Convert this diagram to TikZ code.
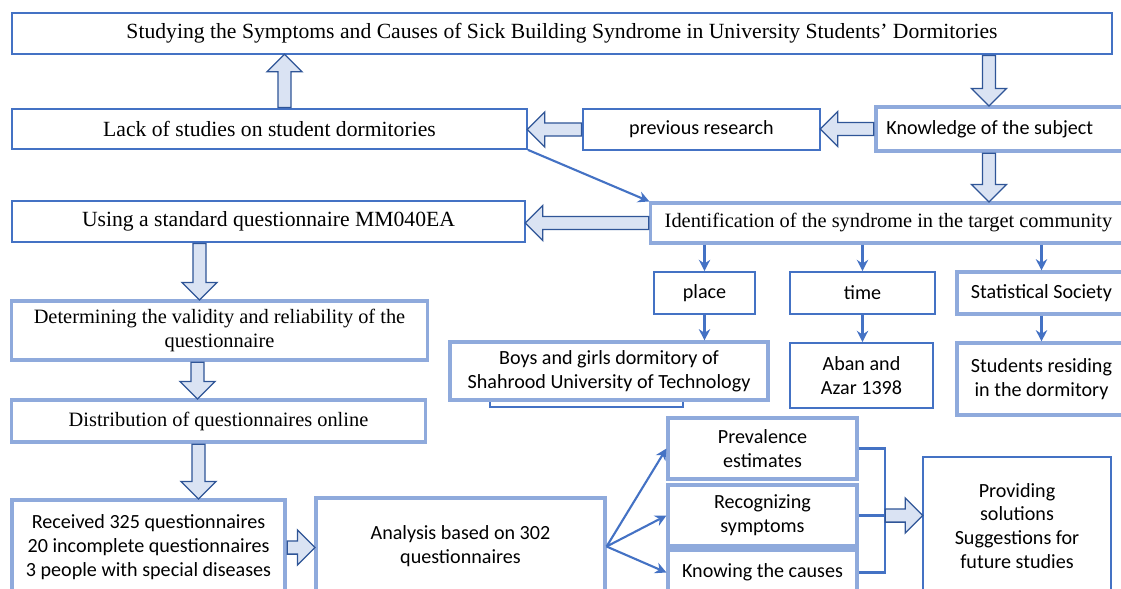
\documentclass[tikz,border=0pt]{standalone}
\usepackage{fontspec}
\setmainfont{Liberation Serif}
\newfontfamily\calibri{Carlito}
\usetikzlibrary{shapes.arrows,arrows.meta,calc}

\definecolor{boxblue}{HTML}{4472C4}
\definecolor{paleblue}{HTML}{8FAADC}
\definecolor{arrowfill}{HTML}{DAE3F3}
\definecolor{arrowline}{HTML}{2F5597}

\newcommand{\fatarrow}[3]{%
  \path let \p1=(#1), \p2=(#2), \n1={veclen(\x2-\x1,\y2-\y1)} in
    node[fat arrow, rotate=#3, anchor=tail, minimum height=\n1] at (\p1) {};}

\begin{document}
\begin{tikzpicture}[x=0.025cm,y=-0.025cm]
\tikzstyle{every node}=[inner sep=2pt, align=center];
\tikzstyle{darkbox}=[draw=boxblue, line width=1.2pt, fill=white];
\tikzstyle{palebox}=[draw=paleblue, line width=2.2pt, fill=white];
\tikzstyle{serif}=[font=\fontsize{15.4}{16.5}\selectfont];
\tikzstyle{small serif}=[font=\fontsize{14.5}{16.5}\selectfont];
\tikzstyle{sans}=[font=\calibri\fontsize{14.3}{17}\selectfont];
\tikzstyle{fat arrow}=[single arrow, draw=arrowline, fill=arrowfill, line width=0.9pt,
  inner sep=4.25pt, single arrow head extend=7.75pt, single arrow tip angle=90];
\tikzstyle{thin arrow}=[draw=boxblue, line width=1.5pt, -{Stealth[length=8pt,width=8pt]}];
\tikzstyle{bracket}=[draw=boxblue, line width=1.5pt];
\useasboundingbox (0,0) rectangle (1121,588);
\clip (0,0) rectangle (1121,588);

\node[darkbox, serif, minimum width=27.5cm, minimum height=1.025cm] (title) at (562,33.5)
  {Studying the Symptoms and Causes of Sick Building Syndrome in University Students' Dormitories};
\node[darkbox, serif, minimum width=12.875cm, minimum height=1cm] (lack) at (269.5,129)
  {Lack of studies on student dormitories};
\node[darkbox, sans, minimum width=5.925cm, minimum height=1.025cm] (prev) at (701.5,129.5)
  {previous research};
\node[palebox, sans, minimum width=6.25cm, minimum height=1.1cm] (know) at (1001,129)
  {Knowledge of the subject\hspace{16pt}};
\node[darkbox, serif, minimum width=12.825cm, minimum height=1.025cm] (using) at (268.5,221.5)
  {Using a standard questionnaire MM040EA};
\node[palebox, small serif, minimum width=11.875cm, minimum height=1cm] (ident) at (888.5,223)
  {Identification of the syndrome in the target community};
\node[darkbox, sans, minimum width=2.525cm, minimum height=1.05cm] (place) at (704.5,293) {place};
\node[darkbox, sans, minimum width=3.625cm, minimum height=1.05cm] (time) at (862.5,293) {time};
\node[palebox, sans, minimum width=4.225cm, minimum height=1.05cm] (stat) at (1041.5,293)
  {Statistical Society};
\draw[darkbox] (490,385) rectangle (683,407);
\node[palebox, sans, minimum width=7.95cm, minimum height=1.45cm] (boys) at (609,371)
  {Boys and girls dormitory of\\Shahrood University of Technology};
\node[darkbox, sans, minimum width=3.575cm, minimum height=1.625cm] (aban) at (861.5,375.5)
  {Aban and\\Azar 1398};
\node[palebox, sans, minimum width=4.225cm, minimum height=1.8cm] (stud) at (1041.5,379)
  {Students residing\\in the dormitory};
\node[palebox, small serif, minimum width=10.375cm, minimum height=1.475cm] (det) at (219.5,330.5)
  {Determining the validity and reliability of the\\questionnaire};
\node[palebox, small serif, minimum width=10.325cm, minimum height=1.05cm] (dist) at (218.5,421)
  {Distribution of questionnaires online};
\node[palebox, sans, minimum width=6.825cm, minimum height=2.375cm] (recv) at (148.5,547.5)
  {Received 325 questionnaires\\20 incomplete questionnaires\\3 people with special diseases};
\node[palebox, sans, minimum width=7.225cm, minimum height=2.425cm] (anal) at (460.5,546.5)
  {Analysis based on 302\\questionnaires};
\node[palebox, sans, minimum width=4.725cm, minimum height=1.525cm] (prv) at (762.5,448.5)
  {Prevalence\\estimates};
\node[palebox, sans, minimum width=4.725cm, minimum height=1.525cm] (recog) at (762.5,515.5)
  {Recognizing\\symptoms};
\node[palebox, sans, minimum width=4.725cm, minimum height=1.125cm] (knowc) at (762.5,572.5)
  {Knowing the causes};
\node[darkbox, sans, minimum width=4.7cm, minimum height=3.45cm] (prov) at (1017,526)
  {Providing\\solutions\\Suggestions for\\future studies};

\fatarrow{$(lack.north)+(15,0)$}{$(lack.north |- title.south)+(15,0)$}{90}
\fatarrow{$(title.south -| know)+(-12,0)$}{$(know.north)+(-12,0)$}{-90}
\fatarrow{know.west}{prev.east}{180}
\fatarrow{prev.west}{lack.east}{180}
\fatarrow{$(know.south)+(-12,0)$}{$(ident.north -| know)+(-12,0)$}{-90}
\fatarrow{ident.west}{using.east}{180}
\fatarrow{$(using.south -| det)+(-20,0)$}{$(det.north)+(-20,0)$}{-90}
\fatarrow{$(det.south)+(-22,0)$}{$(dist.north)+(-22,0)$}{-90}
\fatarrow{$(dist.south)+(-20,0)$}{$(recv.north -| dist)+(-20,0)$}{-90}
\fatarrow{recv.east}{anal.west}{0}

\draw[thin arrow] (lack.south east) -- (ident.north west);
\draw[thin arrow] (ident.south -| place) -- (place.north);
\draw[thin arrow] (ident.south -| time) -- (time.north);
\draw[thin arrow] (ident.south -| stat) -- (stat.north);
\draw[thin arrow] (place.south) -- (boys.north -| place);
\draw[thin arrow] (time.south) -- (aban.north -| time);
\draw[thin arrow] (stat.south) -- (stud.north -| stat);
\draw[thin arrow] (anal.east) -- (prv.west);
\draw[thin arrow] (anal.east) -- (recog.west);
\draw[thin arrow] (anal.east) -- (knowc.west);

\coordinate (brk) at ($(recog.east)+(26,0)$);
\draw[bracket] (prv.east) -| (brk) |- (knowc.east);
\draw[bracket] (recog.east) -- (brk);
\fatarrow{brk}{prov.west |- brk}{0}
\end{tikzpicture}
\end{document}
